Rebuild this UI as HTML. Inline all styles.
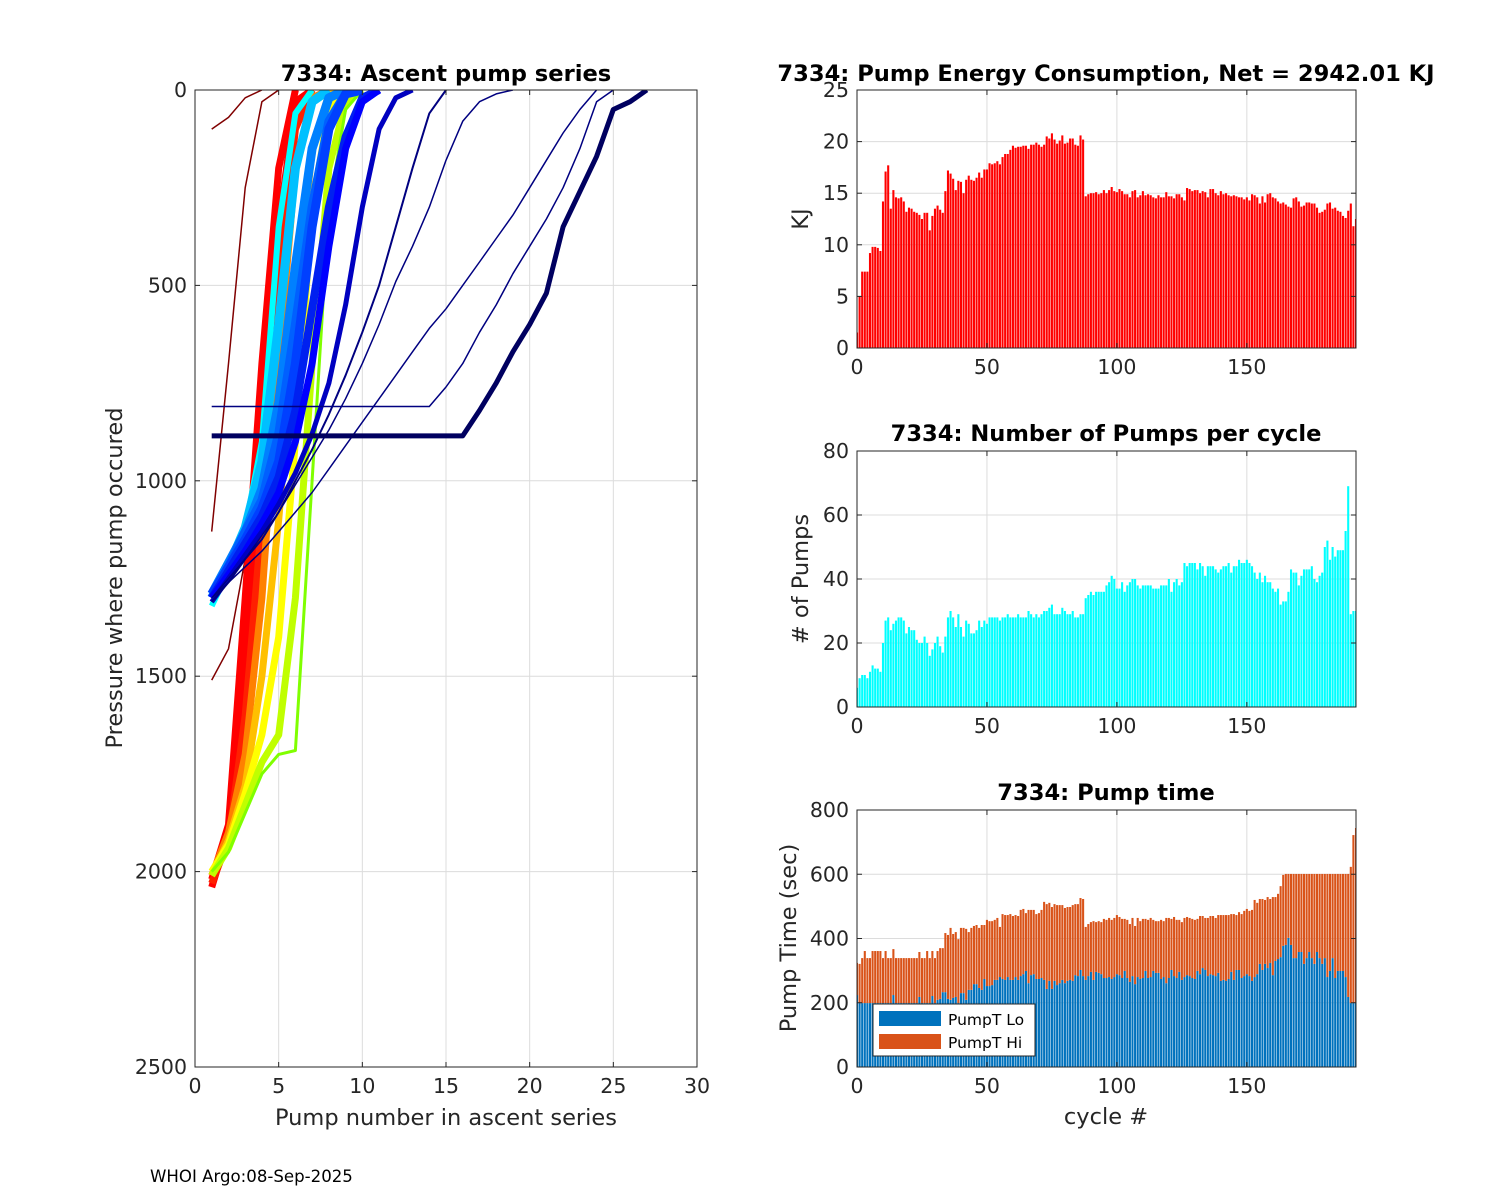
<!DOCTYPE html>
<html><head><meta charset="utf-8"><style>
html,body{margin:0;padding:0;background:#fff;}
svg{display:block;font-family:"DejaVu Sans","Liberation Sans",sans-serif;}
</style></head><body>
<svg id="fig" xmlns="http://www.w3.org/2000/svg" width="1500" height="1200" viewBox="0 0 1500 1200">
<rect x="0" y="0" width="1500" height="1200" fill="#fff"/>
<defs>
<clipPath id="clipL"><rect x="195" y="90" width="502" height="977"/></clipPath>
<clipPath id="clipA"><rect x="857" y="90" width="499" height="258"/></clipPath>
<clipPath id="clipB"><rect x="857" y="451" width="499" height="256"/></clipPath>
<clipPath id="clipC"><rect x="857" y="810" width="499" height="257"/></clipPath>
</defs>
<g id="root"></g>
<text x="150" y="1182" font-size="16.6" fill="#000">WHOI Argo:08-Sep-2025</text>
</svg>
<script>
const energy=[1.5,5.0,7.4,7.4,7.4,9.2,9.8,9.8,9.7,9.4,
14.2,17.1,17.7,13.5,15.3,14.6,14.5,14.6,14.2,13.2,
13.6,13.5,13.2,13.1,12.9,12.5,13.1,13.1,11.4,12.8,
13.5,13.8,13.4,13.1,15.2,17.2,16.9,16.4,15.3,16.2,
16.1,15.0,16.3,16.7,16.3,16.2,16.5,17.0,16.5,17.3,
17.3,17.9,17.8,17.9,18.1,17.8,18.5,18.8,18.8,19.2,
19.6,19.4,19.5,19.5,19.6,19.6,19.3,19.7,19.7,19.9,
19.7,19.5,19.7,20.5,20.3,20.8,20.2,19.8,20.1,20.6,
19.8,19.9,20.3,20.3,19.7,19.6,20.6,20.2,14.7,14.9,
15.0,15.0,15.1,14.9,15.0,15.3,15.0,15.3,15.6,15.2,
15.1,15.4,15.2,14.9,14.9,14.6,15.2,15.3,14.6,14.8,
15.2,14.8,14.9,14.8,14.6,14.5,14.8,14.6,14.6,15.1,
14.7,14.7,14.5,14.9,14.9,14.6,14.3,15.5,15.4,15.2,
15.3,15.3,15.0,15.2,15.1,14.6,15.4,15.4,15.0,14.8,
15.2,14.9,15.0,14.8,14.7,14.8,14.7,14.6,14.6,14.4,
14.6,14.3,14.9,14.8,14.6,14.0,14.7,14.1,14.9,15.0,
14.6,14.5,14.2,14.0,14.1,13.9,13.7,13.6,14.5,14.6,
14.2,13.7,13.8,14.1,14.1,14.0,14.0,13.6,13.1,13.2,
13.4,14.0,14.1,13.5,13.6,13.3,13.2,12.8,12.6,13.3,
14.0,11.8,12.5];
const pumps=[6,9,10,10,9,11,13,12,12,11,
20,27,28,24,26,27,28,28,27,23,
25,24,24,21,20,20,22,20,16,18,
20,22,19,17,22,28,30,28,25,29,
25,22,27,26,23,23,24,27,25,27,
26,28,28,28,28,27,28,28,29,28,
28,28,29,28,28,28,30,29,28,29,
28,29,30,30,31,32,29,29,29,31,
30,29,29,30,28,28,29,29,34,35,
36,35,36,36,36,36,38,39,41,40,
37,37,39,36,38,39,40,40,38,37,
38,38,38,38,37,37,37,38,38,38,
40,36,39,40,38,39,45,44,45,45,
45,43,45,44,41,44,44,44,43,42,
43,44,44,45,42,44,44,46,45,45,
46,45,44,42,40,42,39,41,39,39,
37,36,37,32,33,33,36,43,42,42,
38,41,43,43,43,44,40,39,41,42,
50,52,46,50,47,49,49,49,55,69,
29,30,30];
const pumpLo=[224,199,199,199,199,199,199,199,199,199,
199,199,199,199,224,199,199,199,199,199,
199,199,199,199,218,199,199,199,199,221,
199,209,212,233,233,212,209,215,218,199,
230,230,209,240,240,258,258,246,240,274,
252,252,255,271,271,280,274,271,280,271,
271,280,271,283,289,299,261,286,289,274,
274,277,271,243,268,243,268,255,261,271,
261,268,271,268,286,283,302,283,271,283,
296,271,296,293,289,277,277,280,274,280,
289,286,277,299,277,265,283,258,280,274,
277,299,277,280,299,293,293,274,280,261,
277,302,283,277,296,271,280,286,283,277,
274,299,289,308,302,283,289,286,283,293,
268,271,268,274,296,271,302,302,277,283,
289,283,268,280,289,321,302,321,308,324,
286,330,336,342,377,380,402,380,339,339,
358,358,321,339,358,339,321,358,339,321,
339,280,299,339,277,299,299,299,280,218,
199,199,199];
const pumpTotal=[324,321,339,361,339,339,361,361,361,361,
339,361,339,339,367,339,339,339,339,339,
339,339,339,339,358,339,339,361,339,361,
339,361,370,370,417,411,433,414,420,398,
433,433,430,420,433,439,442,433,442,442,
458,454,454,458,464,436,476,473,473,476,
470,473,470,489,492,479,489,489,489,476,
479,489,514,507,511,498,507,504,504,504,
495,498,498,504,507,507,526,523,436,445,
451,454,451,454,451,461,458,464,458,464,
473,467,461,461,458,445,464,439,464,454,
461,461,458,464,458,454,454,458,454,464,
464,461,467,458,458,451,464,467,464,461,
458,461,470,470,464,464,470,470,464,473,
473,473,473,473,476,476,473,482,476,486,
492,486,489,520,511,523,523,520,529,523,
529,529,539,563,598,601,601,601,601,601,
601,601,601,601,601,601,601,601,601,601,
601,601,601,601,601,601,601,601,601,601,
623,722,744];
// Ascent profiles: pressure at pump number 1,2,3...
const profiles=[
 [1130,700,250,30,0],
 [1510,1430,1200,700,200,0],
 [100,70,20,0],
 [2040,1900,1500,900,350,30,0],
 [2020,1880,1300,700,200,0],
 [2030,1920,1600,1100,500,100,0],
 [2010,1900,1700,1300,700,200,20,0],
 [2010,1920,1780,1500,1100,600,150,10,0],
 [2000,1930,1800,1650,1400,900,300,50,0],
 [2010,1940,1830,1720,1650,1300,700,200,30,0],
 [2000,1950,1850,1750,1700,1690,1000,300,50,0],
 [1320,1230,1120,900,350,60,0],
 [1300,1220,1120,950,600,200,30,0],
 [1290,1210,1130,1020,800,450,150,20,0],
 [1300,1220,1130,1050,880,600,300,80,10,0],
 [1290,1220,1150,1070,950,700,350,100,10,0],
 [1300,1230,1160,1090,990,820,560,300,120,20,0],
 [1300,1240,1180,1110,1030,900,700,400,150,30,0],
 [1310,1250,1190,1130,1060,980,880,750,550,300,100,20,0],
 [1310,1260,1200,1150,1080,1000,920,830,730,620,500,350,200,60,0],
 [1300,1250,1200,1140,1080,1010,940,870,790,700,600,490,400,300,180,80,30,10,0],
 [1300,1260,1220,1180,1130,1080,1030,970,910,850,790,730,670,610,560,500,440,380,320,250,180,110,50,0],
 [810,810,810,810,810,810,810,810,810,810,810,810,810,810,760,700,620,550,470,400,330,250,150,30,0],
 [885,885,885,885,885,885,885,885,885,885,885,885,885,885,885,885,820,750,670,600,520,350,260,170,50,30,0]
];
const profileColors=["#800000","#800000","#800000","#ff0000","#ff0000","#ff2000","#ff8000","#ffc000","#ffff00","#c0ff00","#80ff00","#00ffff","#00c0ff","#0080ff","#0060ff","#0040ff","#0020f0","#0000ff","#0000c0","#000080","#000080","#000080","#000080","#000060"];
const profileWidths=[1.5,1.5,1.5,7,7,7,7,7,7,7,3,6,9,9,9,9,8,7,5,2,1.5,1.5,1.5,5];
const xTicksL=[0,5,10,15,20,25,30];
const yTicksL=[0,500,1000,1500,2000,2500];
const cycTicks=[0,50,100,150];
const eTicks=[0,5,10,15,20,25];
const pTicks=[0,20,40,60,80];
const tTicks=[0,200,400,600,800];

const NS="http://www.w3.org/2000/svg";
const root=document.getElementById('root');
function mk(tag,attrs,parent,txt){const e=document.createElementNS(NS,tag);for(const k in attrs)e.setAttribute(k,attrs[k]);if(txt!==undefined)e.textContent=txt;(parent||root).appendChild(e);return e;}

function axes(name,x0,y0,w,h,xmin,xmax,ymin,ymax,xt,yt,reverse){
  const g=mk('g',{});
  
  
  const sx=v=>x0+(v-xmin)/(xmax-xmin)*w;
  const sy=reverse?(v=>y0+(v-ymin)/(ymax-ymin)*h):(v=>y0+h-(v-ymin)/(ymax-ymin)*h);
  xt.forEach(t=>{const l=mk('line',{x1:sx(t),x2:sx(t),y1:y0,y2:y0+h,stroke:'#dcdcdc','stroke-width':1},g);});
  yt.forEach(t=>{const l=mk('line',{x1:x0,x2:x0+w,y1:sy(t),y2:sy(t),stroke:'#dcdcdc','stroke-width':1},g);});
  const marks=mk('g',{},g);
  
  
  return {g,sx,sy,marks,x0,y0,w,h,xt,yt};
}
function frame(a){
  const g=a.g;
  const b=mk('rect',{x:a.x0,y:a.y0,width:a.w,height:a.h,fill:'none',stroke:'#262626','stroke-width':1},g);
  
  
  a.xt.forEach(t=>{const X=a.sx(t);
    mk('line',{x1:X,x2:X,y1:a.y0+a.h,y2:a.y0+a.h-5,stroke:'#262626'},g);
    mk('line',{x1:X,x2:X,y1:a.y0,y2:a.y0+5,stroke:'#262626'},g);
    const tx=mk('text',{x:X,y:a.y0+a.h+26,'font-size':20.5,'text-anchor':'middle',fill:'#262626'},g,String(t));
    
    
  });
  a.yt.forEach(t=>{const Y=a.sy(t);
    mk('line',{x1:a.x0,x2:a.x0+5,y1:Y,y2:Y,stroke:'#262626'},g);
    mk('line',{x1:a.x0+a.w,x2:a.x0+a.w-5,y1:Y,y2:Y,stroke:'#262626'},g);
    const tx=mk('text',{x:a.x0-8,y:Y+7,'font-size':20.5,'text-anchor':'end',fill:'#262626'},g,String(t));
    
    
  });
}
function title(txt,x,y,name){const t=mk('text',{x:x,y:y,'font-size':22.6,'font-weight':'bold','text-anchor':'middle',fill:'#000','xml:space':'preserve'},root,txt);}
function ylabel(txt,x,y,name){const t=mk('text',{x:x,y:y,'font-size':22.5,'text-anchor':'middle',fill:'#262626',transform:`rotate(-90 ${x} ${y})`},root,txt);}
function xlabel(txt,x,y,name){const t=mk('text',{x:x,y:y,'font-size':22.5,'text-anchor':'middle',fill:'#262626'},root,txt);}

// Left chart
const L=axes('ascent-pump-chart',195,90,502,977,0,30,0,2500,xTicksL,yTicksL,true);
L.marks.setAttribute('clip-path','url(#clipL)');
profiles.forEach((p,i)=>{
  const pts=p.map((v,j)=>L.sx(j+1).toFixed(1)+','+L.sy(v).toFixed(1)).join(' ');
  const pl=mk('polyline',{points:pts,fill:'none',stroke:profileColors[i],'stroke-width':profileWidths[i],'stroke-linejoin':'round'},L.marks);
  
  
});
frame(L);
title('7334: Ascent pump series',446,81,'ascent-chart-title');
xlabel('Pump number in ascent series',446,1125,'ascent-x-axis-title');
ylabel('Pressure where pump occured',122,578,'ascent-y-axis-title');

const XMAX=192;
const bw=0.8;
// Energy
const A=axes('energy-chart',857,90,499,258,0,XMAX,0,25,cycTicks,eTicks,false);
A.marks.setAttribute('clip-path','url(#clipA)');
energy.forEach((v,i)=>{const r=mk('rect',{x:A.sx(i-bw/2),y:A.sy(v),width:A.sx(bw)-A.sx(0),height:A.sy(0)-A.sy(v),fill:'#ff0000'},A.marks);
  
  });
frame(A);
title('7334: Pump Energy Consumption,  Net = 2942.01 KJ',1106,81,'energy-chart-title');
ylabel('KJ',808,219,'energy-y-axis-title');

// Pumps
const B=axes('pumps-chart',857,451,499,256,0,XMAX,0,80,cycTicks,pTicks,false);
B.marks.setAttribute('clip-path','url(#clipB)');
pumps.forEach((v,i)=>{const r=mk('rect',{x:B.sx(i-bw/2),y:B.sy(v),width:B.sx(bw)-B.sx(0),height:B.sy(0)-B.sy(v),fill:'#00ffff'},B.marks);
  
  });
frame(B);
title('7334: Number of Pumps per cycle',1106,441,'pumps-chart-title');
ylabel('# of Pumps',808,579,'pumps-y-axis-title');

// Pump time
const C=axes('pump-time-chart',857,810,499,257,0,XMAX,0,800,cycTicks,tTicks,false);
C.marks.setAttribute('clip-path','url(#clipC)');
pumpLo.forEach((v,i)=>{
  const r=mk('rect',{x:C.sx(i-bw/2),y:C.sy(v),width:C.sx(bw)-C.sx(0),height:C.sy(0)-C.sy(v),fill:'#0072bd'},C.marks);
  
  
  const t=pumpTotal[i];
  const r2=mk('rect',{x:C.sx(i-bw/2),y:C.sy(t),width:C.sx(bw)-C.sx(0),height:C.sy(v)-C.sy(t),fill:'#d95319'},C.marks);
  
  
});
frame(C);
title('7334: Pump time',1106,800,'pump-time-chart-title');
ylabel('Pump Time (sec)',796,938,'pump-time-y-axis-title');
xlabel('cycle #',1106,1124,'cycle-x-axis-title');

// Legend
const lg=mk('g',{});


mk('rect',{x:873,y:1004,width:162,height:52,fill:'#fff',stroke:'#262626','stroke-width':1},lg);
const e1=mk('g',{},lg);


mk('rect',{x:879,y:1011,width:62,height:15,fill:'#0072bd'},e1);
mk('text',{x:948,y:1025,'font-size':15.5,fill:'#000'},e1,'PumpT Lo');
const e2=mk('g',{},lg);


mk('rect',{x:879,y:1034,width:62,height:15,fill:'#d95319'},e2);
mk('text',{x:948,y:1048,'font-size':15.5,fill:'#000'},e2,'PumpT Hi');
</script>
</body></html>
